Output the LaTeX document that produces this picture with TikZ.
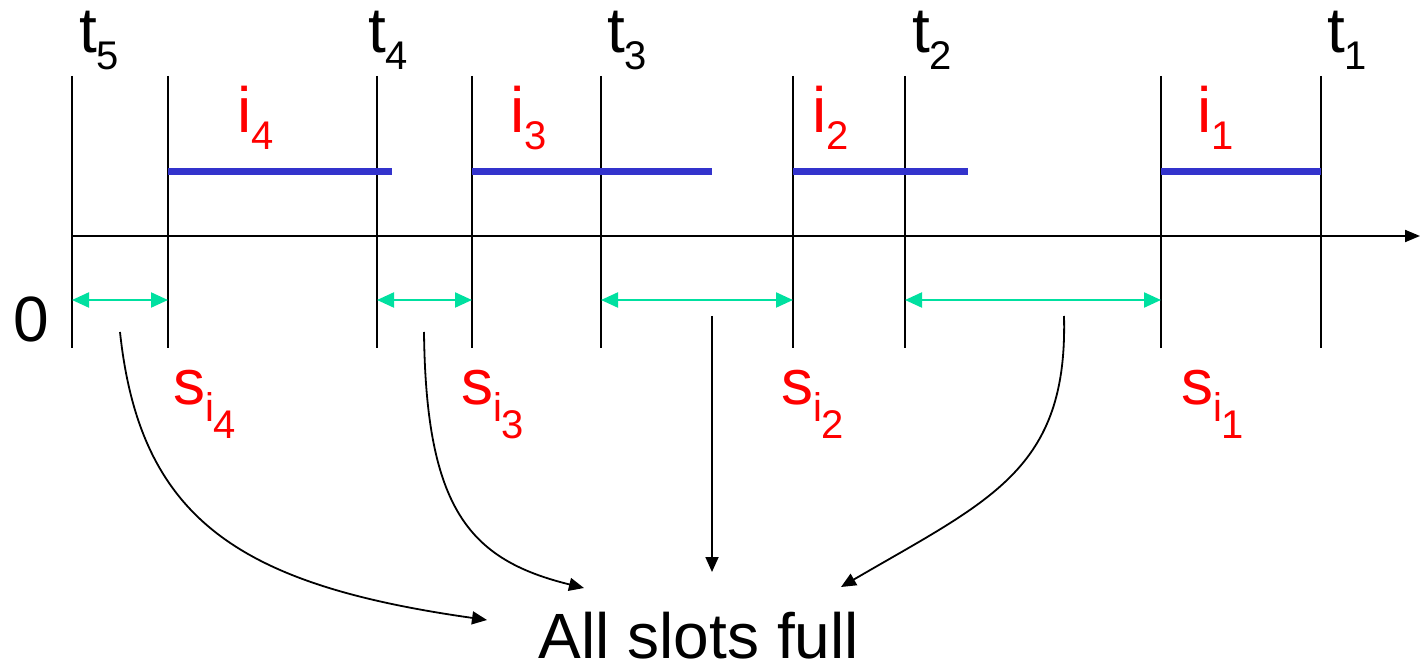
\documentclass[tikz,border=0pt]{standalone}
\usepackage{fontspec}
\setmainfont{Liberation Sans}
\usetikzlibrary{arrows.meta}

\definecolor{lblred}{RGB}{255,0,0}
\definecolor{barblue}{RGB}{51,51,204}
\definecolor{gapgreen}{RGB}{0,224,160}

% lowered, smaller index
\newcommand\lowsub[1]{\raisebox{-8.5pt}{\fontsize{20}{20}\selectfont #1}}

\tikzset{every picture/.style={line width=1pt}}

\begin{document}
\begin{tikzpicture}[x=0.5pt,y=0.5pt,yscale=-1,xscale=1,
  tick/.style={line width=1pt},
  job/.style={draw=barblue,line width=3.5pt},
  gap/.style={draw=gapgreen,line width=1.1pt,{Triangle[length=8.5pt,width=7.5pt]}-{Triangle[length=8.5pt,width=7.5pt]}},
  lead/.style={line width=0.9pt,-{Triangle[length=7.5pt,width=6.5pt]}},
  tlbl/.style={anchor=base west,inner sep=0pt,font=\fontsize{32}{32}\selectfont},
  ilbl/.style={tlbl,text=lblred}]

\useasboundingbox (0,0) rectangle (1420,668);

% levels
\coordinate (bary) at (0,172);
\coordinate (axy) at (0,236);
\coordinate (gapy) at (0,300);

% time lines
\coordinate (t5top) at (72,76);    \coordinate (t5bot) at (72,348);
\coordinate (s4top) at (168,76);   \coordinate (s4bot) at (168,348);
\coordinate (t4top) at (377,76);   \coordinate (t4bot) at (377,348);
\coordinate (s3top) at (472,76);   \coordinate (s3bot) at (472,348);
\coordinate (t3top) at (601,76);   \coordinate (t3bot) at (601,348);
\coordinate (s2top) at (793,76);   \coordinate (s2bot) at (793,348);
\coordinate (t2top) at (905,76);   \coordinate (t2bot) at (905,348);
\coordinate (s1top) at (1161,76);  \coordinate (s1bot) at (1161,348);
\coordinate (t1top) at (1321,76);  \coordinate (t1bot) at (1321,348);

\draw [tick] (t5top) -- (t5bot);
\draw [tick] (s4top) -- (s4bot);
\draw [tick] (t4top) -- (t4bot);
\draw [tick] (s3top) -- (s3bot);
\draw [tick] (t3top) -- (t3bot);
\draw [tick] (s2top) -- (s2bot);
\draw [tick] (t2top) -- (t2bot);
\draw [tick] (s1top) -- (s1bot);
\draw [tick] (t1top) -- (t1bot);

% axis
\coordinate (axend) at (1420,236);
\draw [tick,-{Triangle[length=7.5pt,width=6pt]}] (t5top |- axy) -- (axend);

% jobs
\coordinate (i4end) at (392,172);
\coordinate (i3end) at (712,172);
\coordinate (i2end) at (968,172);
\draw [job] (s4top |- bary) -- (i4end);
\draw [job] (s3top |- bary) -- (i3end);
\draw [job] (s2top |- bary) -- (i2end);
\draw [job] (s1top |- bary) -- (t1top |- bary);

% free slots
\draw [gap] (t5top |- gapy) -- (s4top |- gapy);
\draw [gap] (t4top |- gapy) -- (s3top |- gapy);
\draw [gap] (t3top |- gapy) -- (s2top |- gapy);
\draw [gap] (t2top |- gapy) -- (s1top |- gapy);

% labels
\node (lt5) [tlbl] at (78,53) {t\lowsub{5}};
\node (lt4) [tlbl] at (367,53) {t\lowsub{4}};
\node (lt3) [tlbl] at (606,53) {t\lowsub{3}};
\node (lt2) [tlbl] at (911,53) {t\lowsub{2}};
\node (lt1) [tlbl] at (1326,53) {t\lowsub{1}};
\node (zero) [tlbl] at (12,342) {0};

\node (li4) [ilbl] at (236,133) {i\lowsub{4}};
\node (li3) [ilbl] at (509,133) {i\lowsub{3}};
\node (li2) [ilbl] at (811,133) {i\lowsub{2}};
\node (li1) [ilbl] at (1196,133) {i\lowsub{1}};

\node (ls4) [ilbl] at (172,405) {s\lowsub{i\lowsub{4}}};
\node (ls3) [ilbl] at (460,405) {s\lowsub{i\lowsub{3}}};
\node (ls2) [ilbl] at (780,405) {s\lowsub{i\lowsub{2}}};
\node (ls1) [ilbl] at (1180,405) {s\lowsub{i\lowsub{1}}};

\node (full) [tlbl,anchor=base] at (699,658) {All slots full};

% leads to the text
\coordinate (g4) at (120,332);   \coordinate (g4in) at (487,620);
\coordinate (g3) at (424,332);   \coordinate (g3in) at (584,588);
\coordinate (g2) at (712,316);   \coordinate (g2in) at (712,572);
\coordinate (g1) at (1064,316);  \coordinate (g1in) at (841,587);

\draw [lead] (g4) .. controls (140,520) and (240,585) .. (g4in);
\draw [lead] (g3) .. controls (426,510) and (470,560) .. (g3in);
\draw [lead] (g2) -- (g2in);
\draw [lead] (g1) .. controls (1068,470) and (990,500) .. (g1in);
\end{tikzpicture}
\end{document}
